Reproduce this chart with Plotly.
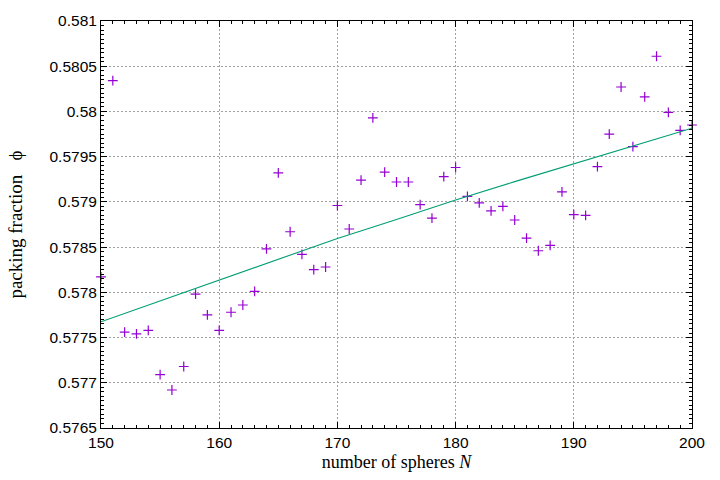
import plotly.graph_objects as go

# measured packing fractions
n_spheres = list(range(150, 201))
phi = [
    0.57817, 0.58034, 0.57756, 0.57754, 0.57758, 0.57709, 0.57692, 0.57718,
    0.57798, 0.57775, 0.57758, 0.57778, 0.57786, 0.57801, 0.57848, 0.57932,
    0.57867, 0.57842, 0.57825, 0.57828, 0.57896, 0.57870, 0.57924, 0.57993,
    0.57933, 0.57922, 0.57922, 0.57897, 0.57882, 0.57928, 0.57938, 0.57906,
    0.57899, 0.57890, 0.57895, 0.57880, 0.57860, 0.57846, 0.57852, 0.57911,
    0.57886, 0.57885, 0.57939, 0.57975, 0.58027, 0.57961, 0.58016, 0.58061,
    0.57999, 0.57979, 0.57985,
]

# fit curve, read at every 5 spheres
fit_n = [150, 155, 160, 165, 170, 175, 180, 185, 190, 195, 200]
fit_phi = [0.577674, 0.577905, 0.578133, 0.578367, 0.578596, 0.578806,
           0.579020, 0.579224, 0.579423, 0.579619, 0.579815]

y_ticks = [0.5765, 0.577, 0.5775, 0.578, 0.5785, 0.579, 0.5795, 0.58, 0.5805, 0.581]
y_labels = ["0.5765", "0.577", "0.5775", "0.578", "0.5785", "0.579",
            "0.5795", "0.58", "0.5805", "0.581"]
x_ticks = [150, 160, 170, 180, 190, 200]

serif = "Liberation Serif, Times New Roman, serif"

fig = go.Figure()
fig.add_trace(go.Scatter(
    x=n_spheres, y=phi, mode="markers", cliponaxis=False,
    marker=dict(symbol="cross-thin", size=7, line=dict(width=1.2, color="#9400d3")),
    showlegend=False,
))
fig.add_trace(go.Scatter(
    x=fit_n, y=fit_phi, mode="lines",
    line=dict(color="#009e73", width=1.1),
    showlegend=False,
))

axis_common = dict(
    showline=True, linecolor="black", linewidth=1, mirror="ticks",
    ticks="inside", ticklen=6, tickcolor="black",
    showgrid=True, gridcolor="#a0a0a0", griddash="2px,2px", gridwidth=1,
    zeroline=False,
    tickfont=dict(family="Liberation Sans, Arial, sans-serif", size=15.5, color="black"),
)

fig.update_xaxes(
    range=[150, 200], tickvals=x_ticks,
    minor=dict(dtick=1, ticks="inside", ticklen=3, tickcolor="black", showgrid=False),
    title=dict(text="number of spheres <i>N</i>", standoff=5,
               font=dict(family=serif, size=18, color="black")),
    **axis_common,
)
fig.update_yaxes(
    range=[0.5765, 0.581], tickvals=y_ticks, ticktext=y_labels,
    minor=dict(dtick=0.00005, ticks="inside", ticklen=3, tickcolor="black", showgrid=False),
    title=dict(text="packing fraction\u00a0\u00a0 ϕ", standoff=21,
               font=dict(family=serif, size=19, color="black")),
    **axis_common,
)

fig.update_layout(
    width=720, height=480,
    margin=dict(l=101, r=28, t=15, b=50),
    plot_bgcolor="white", paper_bgcolor="white",
)

fig.write_html("out.html", config={"displayModeBar": False},
               post_script="document.body.style.margin='0';")
